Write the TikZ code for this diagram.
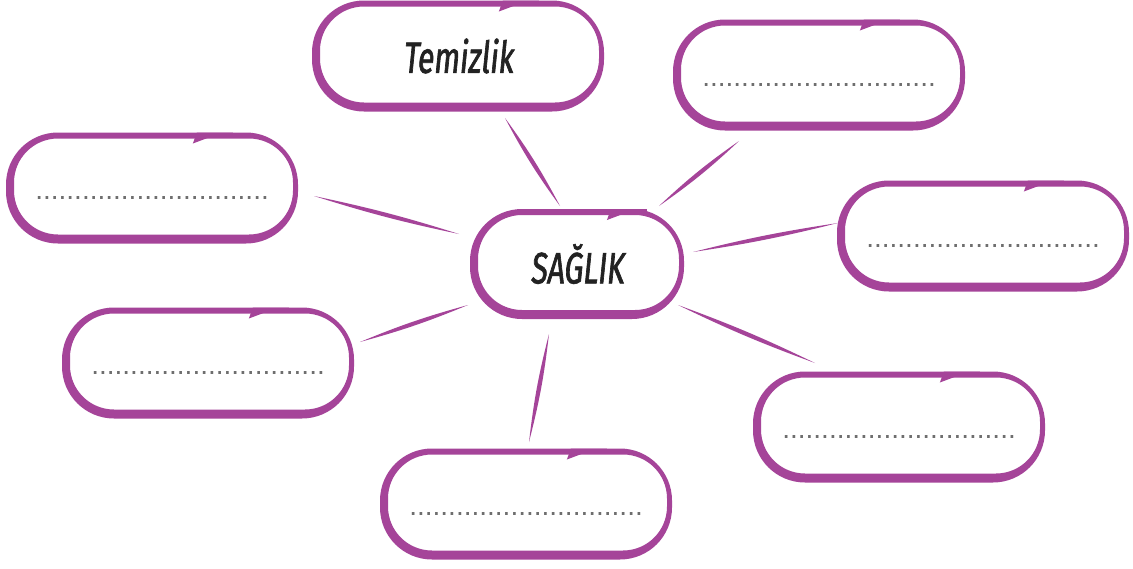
\documentclass[tikz,border=0pt]{standalone}
\usepackage{fontspec}
\newfontfamily\handfont[FakeSlant=0.1,FakeStretch=0.68,FakeBold=1.5]{Fira Sans}
\newfontfamily\dotfont{Liberation Sans}
\usetikzlibrary{calc}
\definecolor{pcol}{HTML}{A54499}
\definecolor{dotgray}{HTML}{6E6E6E}
\definecolor{ink}{HTML}{222222}
\tikzset{
  bubble/.style={minimum width=292pt, minimum height=111pt, inner sep=0pt, outer sep=0pt},
  hubbox/.style={bubble, minimum width=214pt, minimum height=110pt},
  dotline/.style={font=\dotfont\fontsize{28}{30}\selectfont, text=dotgray, inner sep=0pt},
  handtext/.style={font=\handfont\fontsize{44}{48}\selectfont, text=ink},
}
% y axis points down (y=-1pt): positive y offsets go down
\newcommand\bubbleframe[1]{%
  \fill[pcol, even odd rule]
    [rounded corners=52pt] (#1.south west) rectangle (#1.north east)
    [rounded corners=44pt] ($(#1.south west)+(8,-9)$) rectangle ($(#1.north east)+(-5,6)$);
  \fill[pcol] ($(#1.north west)!0.64!(#1.north east)+(0,11)$) -- ++(24,-9) -- ++(16,3) -- ++(0,-5) -- ++(-36,0) -- cycle;
}
\newcommand\connector[3]{\fill[pcol] #1 to[bend left=#3] #2 to[bend left=#3] #1;}
\begin{document}
\begin{tikzpicture}[x=1pt,y=-1pt]
  \fill[white] (0,0) rectangle (1133,568);
  \useasboundingbox (0,0) rectangle (1133,568);
  % nodes
  \node[hubbox, handtext] (c) at (577,264) {SAĞLIK};
  \node[bubble, handtext] (t) at (458,56) {Temizlik};
  \node[bubble] (r1) at (819,75) {};
  \node[bubble] (l1) at (152,188) {};
  \node[bubble] (r2) at (983,236) {};
  \node[bubble] (l2) at (208,363) {};
  \node[bubble] (r3) at (899,427) {};
  \node[bubble] (b) at (526,504) {};
  % frames
  \bubbleframe{c}
  \bubbleframe{t}
  \bubbleframe{r1}
  \bubbleframe{l1}
  \bubbleframe{r2}
  \bubbleframe{l2}
  \bubbleframe{r3}
  \bubbleframe{b}
  % dotted answer lines
  \node[dotline] (d1) at ($(r1.center)+(0,10)$) {..............................};
  \node[dotline] (d2) at ($(l1.center)+(0,10)$) {..............................};
  \node[dotline] (d3) at ($(r2.center)+(0,10)$) {..............................};
  \node[dotline] (d4) at ($(l2.center)+(0,10)$) {..............................};
  \node[dotline] (d5) at ($(r3.center)+(0,10)$) {..............................};
  \node[dotline] (d6) at ($(b.center)+(0,10)$) {..............................};
  % connectors
  \connector{($(t)+(47,62)$)}{($(c)+(-17,-58)$)}{4}
  \connector{($(r1)+(-80,66)$)}{($(c)+(82,-58)$)}{4}
  \connector{($(l1)+(162,8)$)}{($(c)+(-118,-30)$)}{2.7}
  \connector{($(r2)+(-145,-13)$)}{($(c)+(116,-12)$)}{2.7}
  \connector{($(l2)+(152,-21)$)}{($(c)+(-109,41)$)}{3.5}
  \connector{($(b)+(3,-62)$)}{($(c)+(-28,70)$)}{3.8}
  \connector{($(r3)+(-84,-64)$)}{($(c)+(101,41)$)}{2.8}
\end{tikzpicture}
\end{document}
